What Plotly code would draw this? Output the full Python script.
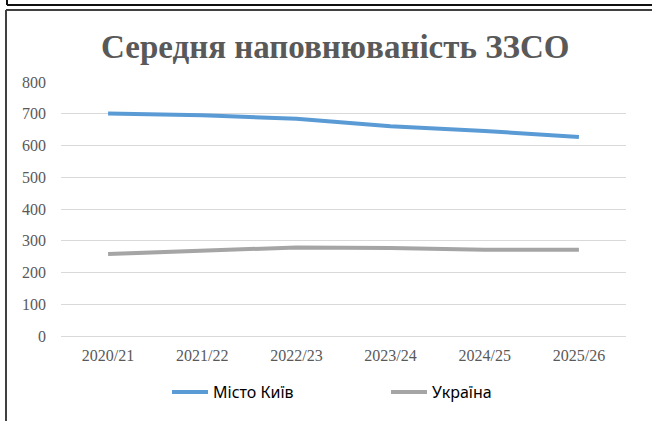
import plotly.graph_objects as go

categories = ["2020/21", "2021/22", "2022/23", "2023/24", "2024/25", "2025/26"]
kyiv = [701, 695, 684, 661, 646, 627]
ukraine = [258, 269, 279, 277, 272, 272]
y_ticks = [0, 100, 200, 300, 400, 500, 600, 700, 800]

W, H = 652, 421
L, R, T, B = 61, 26, 82, 85
pw, ph = W - L - R, H - T - B

def px(x):
    return (x - L) / pw

def py(y):
    return (H - B - y) / ph

fig = go.Figure()
fig.add_trace(go.Scatter(x=categories, y=kyiv, mode="lines", name="Місто Київ",
                         line=dict(color="#5B9BD5", width=4)))
fig.add_trace(go.Scatter(x=categories, y=ukraine, mode="lines", name="Україна",
                         line=dict(color="#A5A5A5", width=4)))

shapes = [
    dict(type="line", xref="paper", yref="paper", x0=px(7), x1=px(700), y0=py(5), y1=py(5),
         line=dict(color="#111111", width=2)),
    dict(type="line", xref="paper", yref="paper", x0=px(7), x1=px(7), y0=py(-10), y1=py(5),
         line=dict(color="#111111", width=2)),
    dict(type="line", xref="paper", yref="paper", x0=px(6), x1=px(700), y0=py(10), y1=py(10),
         line=dict(color="#404040", width=2)),
    dict(type="line", xref="paper", yref="paper", x0=px(6), x1=px(6), y0=py(10), y1=py(440),
         line=dict(color="#404040", width=2)),
]

fig.update_layout(
    width=W, height=H,
    margin=dict(l=L, r=R, t=T, b=B),
    paper_bgcolor="white", plot_bgcolor="white",
    shapes=shapes,
    annotations=[dict(text="<b>Середня наповнюваність ЗЗСО</b>", xref="paper", yref="paper",
                      x=px(335), y=py(47), xanchor="center", yanchor="middle", showarrow=False,
                      font=dict(family="Liberation Serif", size=33, color="#595959"))],
    showlegend=True,
    legend=dict(orientation="h", x=px(167), xanchor="left", y=py(392), yanchor="middle",
                font=dict(family="Noto Sans", size=16, color="#000000"),
                itemwidth=36, entrywidth=168, entrywidthmode="pixels",
                bgcolor="rgba(0,0,0,0)"),
    xaxis=dict(type="category", showgrid=False, showline=False, zeroline=False,
               tickfont=dict(family="Liberation Serif", size=16, color="#595959"),
               ticks="", ticklabelstandoff=8, range=[-0.5, 5.5]),
    yaxis=dict(range=[0, 800], tickvals=y_ticks, showgrid=True, gridcolor="#D9D9D9",
               gridwidth=1, zeroline=True, zerolinecolor="#D9D9D9", zerolinewidth=1,
               showline=False, ticks="", ticklabelstandoff=14,
               tickfont=dict(family="Liberation Serif", size=16, color="#595959")),
)

fig.write_html("out.html", config={"displayModeBar": False},
               post_script="document.body.style.margin='0';document.body.style.overflow='hidden';")
